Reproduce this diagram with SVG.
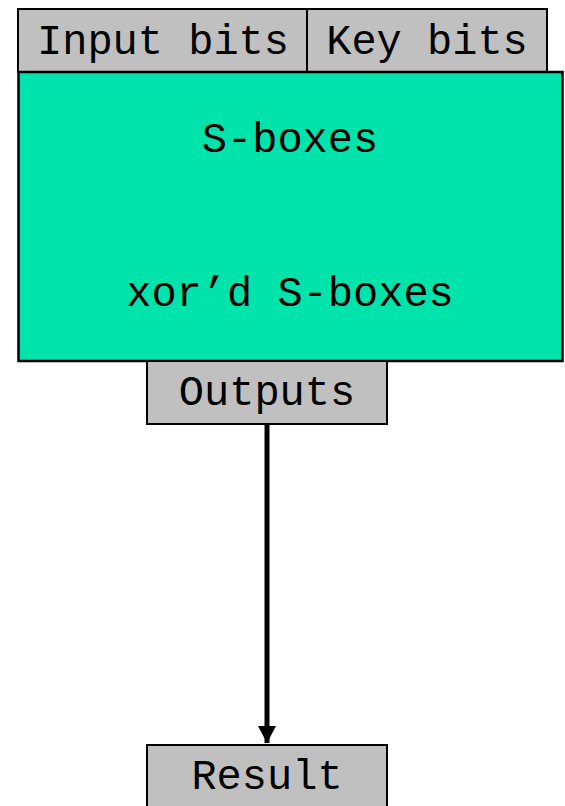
<svg xmlns="http://www.w3.org/2000/svg" width="565" height="806" viewBox="0 0 565 806">
  <style>
    .box { fill: #c0c0c0; stroke: #000; stroke-width: 2; }
    .core { fill: #00e3aa; stroke: #000; stroke-width: 2.5; }
    .lbl { font-family: "Liberation Mono", "Courier New", monospace; font-size: 42px; fill: #000; text-anchor: middle; }
    .wire { stroke: #000; stroke-width: 5; fill: none; }
  </style>
  <defs>
    <marker id="head" markerUnits="userSpaceOnUse" markerWidth="20" markerHeight="18" refX="17" refY="9" orient="auto">
      <path d="M0,0 L17,9 L0,18 Z" fill="#000"/>
    </marker>
  </defs>

  <g id="input-bits">
    <rect class="box" x="18" y="9" width="289" height="63"/>
    <text class="lbl" x="163" y="54">Input bits</text>
  </g>

  <g id="key-bits">
    <rect class="box" x="307" y="9" width="240" height="63"/>
    <text class="lbl" x="427" y="54">Key bits</text>
  </g>

  <g id="sboxes">
    <rect class="core" x="18.5" y="72" width="544" height="289"/>
    <text class="lbl" x="290" y="152">S-boxes</text>
    <text class="lbl" x="290" y="306">xor’d S-boxes</text>
  </g>

  <g id="outputs">
    <rect class="box" x="147" y="361" width="240" height="63"/>
    <text class="lbl" x="267" y="405">Outputs</text>
  </g>

  <g id="result">
    <rect class="box" x="147" y="745" width="240" height="70"/>
    <text class="lbl" x="267" y="789">Result</text>
  </g>

  <g id="connectors">
    <line class="wire" x1="267" y1="425" x2="267" y2="743" marker-end="url(#head)"/>
  </g>
</svg>
